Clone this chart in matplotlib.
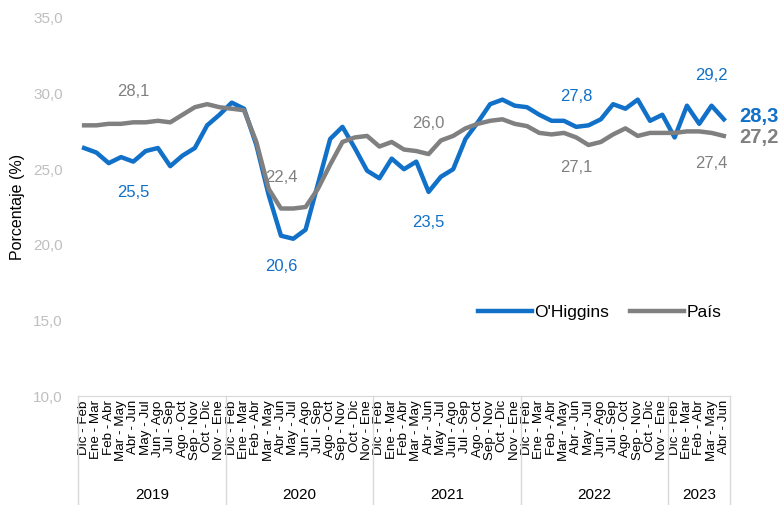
import matplotlib
matplotlib.use('Agg')
import matplotlib.pyplot as plt
import matplotlib.transforms as mtransforms
import numpy as np

# 类别：滚动三月期
periodos = ['Dic - Feb', 'Ene - Mar', 'Feb - Abr', 'Mar - May', 'Abr - Jun', 'May - Jul',
            'Jun - Ago', 'Jul - Sep', 'Ago - Oct', 'Sep - Nov', 'Oct - Dic', 'Nov - Ene']
anios = ['2019', '2020', '2021', '2022', '2023']
meses_por_anio = [12, 12, 12, 12, 5]

etiquetas_x = []
for n in meses_por_anio:
    etiquetas_x += periodos[:n]

ohiggins = [26.4, 26.1, 25.4, 25.8, 25.5, 26.2, 26.4, 25.2, 25.9, 26.4, 27.9, 28.6,
            29.4, 29.0, 26.6, 23.3, 20.6, 20.4, 21.0, 24.0, 27.0, 27.8, 26.4, 24.9,
            24.4, 25.7, 25.0, 25.5, 23.5, 24.5, 25.0, 27.0, 28.1, 29.3, 29.6, 29.2,
            29.1, 28.6, 28.2, 28.2, 27.8, 27.9, 28.3, 29.3, 29.0, 29.6, 28.2, 28.6,
            27.1, 29.2, 28.0, 29.2, 28.3]
pais = [27.9, 27.9, 28.0, 28.0, 28.1, 28.1, 28.2, 28.1, 28.6, 29.1, 29.3, 29.1,
        29.0, 28.9, 26.8, 23.7, 22.4, 22.4, 22.5, 23.7, 25.3, 26.8, 27.1, 27.2,
        26.5, 26.8, 26.3, 26.2, 26.0, 26.9, 27.2, 27.7, 28.0, 28.2, 28.3, 28.0,
        27.85, 27.4, 27.3, 27.4, 27.1, 26.6, 26.8, 27.3, 27.7, 27.2, 27.4, 27.4,
        27.4, 27.5, 27.5, 27.4, 27.2]

# 标注的点（索引）
idx_arriba_pais = [4, 16, 28]
idx_abajo_pais = [40, 51]
idx_abajo_ohiggins = [4, 16, 28]
idx_arriba_ohiggins = [40, 51]

AZUL = '#1170C8'
GRIS = '#808080'

plt.rcParams['font.family'] = ['Liberation Sans', 'DejaVu Sans']

fig = plt.figure(figsize=(7.82, 5.05), dpi=100)
ax = fig.add_axes([0.0997, 0.2158, 0.8338, 0.7486])

x = np.arange(len(ohiggins))
ax.plot(x, ohiggins, color=AZUL, linewidth=3.2, label="O'Higgins", solid_joinstyle='round')
ax.plot(x, pais, color=GRIS, linewidth=3.2, label='País', solid_joinstyle='round')

ax.set_xlim(-0.5, len(x) - 0.5)
ax.set_ylim(10, 35)
ax.set_yticks(np.arange(10, 36, 5))
ax.set_yticklabels([f'{v:.1f}'.replace('.', ',') for v in np.arange(10, 36, 5)],
                   color='#BFBFBF', fontsize=11)
ax.tick_params(axis='y', length=0, pad=11)

ax.set_xticks(x)
ax.set_xticklabels(etiquetas_x, rotation=90, fontsize=9.6, va='top')
ax.tick_params(axis='x', length=0, pad=3)

for s in ['top', 'right', 'left']:
    ax.spines[s].set_visible(False)
ax.spines['bottom'].set_color('#D9D9D9')

ax.set_ylabel('Porcentaje (%)', fontsize=11.5, labelpad=6)

# 年份分组
trans = mtransforms.blended_transform_factory(ax.transData, ax.transAxes)
inicio = -0.5
for anio, n in zip(anios, meses_por_anio):
    ax.plot([inicio, inicio], [0, -0.3], color='#D9D9D9', lw=1, transform=trans, clip_on=False)
    ax.text(inicio + n / 2, -0.262, anio, transform=trans, ha='center', va='center', fontsize=11)
    inicio += n
ax.plot([inicio, inicio], [0, -0.3], color='#D9D9D9', lw=1, transform=trans, clip_on=False)


def fmt(v):
    return f'{v:.1f}'.replace('.', ',')


# 数据标签
for i in idx_arriba_pais:
    ax.annotate(fmt(pais[i]), (i, pais[i]), xytext=(0, 22), textcoords='offset points',
                ha='center', va='center', color=GRIS, fontsize=12)
for i in idx_abajo_pais:
    ax.annotate(fmt(pais[i]), (i, pais[i]), xytext=(0, -22), textcoords='offset points',
                ha='center', va='center', color=GRIS, fontsize=12)
for i in idx_abajo_ohiggins:
    ax.annotate(fmt(ohiggins[i]), (i, ohiggins[i]), xytext=(0, -22), textcoords='offset points',
                ha='center', va='center', color=AZUL, fontsize=12)
for i in idx_arriba_ohiggins:
    ax.annotate(fmt(ohiggins[i]), (i, ohiggins[i]), xytext=(0, 22), textcoords='offset points',
                ha='center', va='center', color=AZUL, fontsize=12)

# 末端标签
ax.annotate(fmt(ohiggins[-1]), (x[-1], ohiggins[-1]), xytext=(11, 2), textcoords='offset points',
            ha='left', va='center', color=AZUL, fontsize=14.5, fontweight='bold', annotation_clip=False)
ax.annotate(fmt(pais[-1]), (x[-1], pais[-1]), xytext=(11, -1), textcoords='offset points',
            ha='left', va='center', color=GRIS, fontsize=14.5, fontweight='bold', annotation_clip=False)

ax.legend(loc='center', bbox_to_anchor=(0.80, 0.222), ncol=2, frameon=False, fontsize=12.5,
          handlelength=3.1, handletextpad=0.15, columnspacing=1.2)

plt.savefig('out.png', dpi=100)
plt.close()
